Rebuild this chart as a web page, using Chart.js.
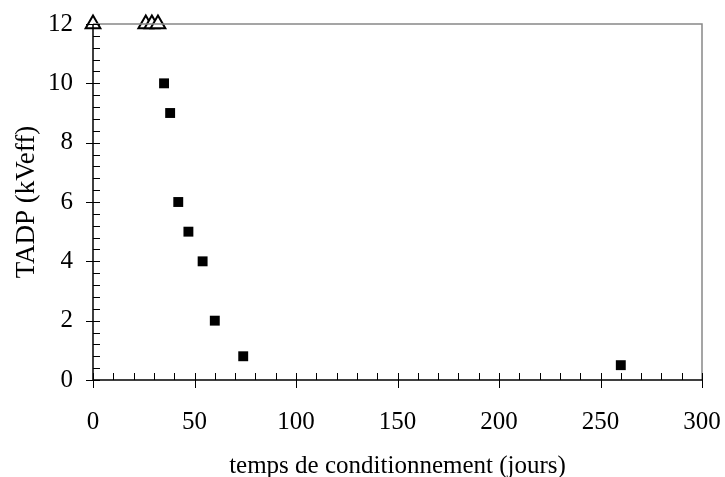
<!DOCTYPE html>
<html>
<head>
<meta charset="utf-8">
<script src="https://cdn.jsdelivr.net/npm/chart.js@4.4.0/dist/chart.umd.min.js"></script>
<style>
  body { margin: 0; background: #fff; }
  #wrap { width: 725px; height: 477px; }
</style>
</head>
<body>
<div id="wrap"><canvas id="myChart"></canvas></div>
<script>
// values
const tempsCarres = [35, 38, 42, 47, 54, 60, 74, 260];
const tadpCarres = [10, 9, 6, 5, 4, 2, 0.8, 0.5];
const tempsTriangles = [0, 26, 29, 32];
const tadpTriangles = [12, 12, 12, 12];
const xTicks = [0, 50, 100, 150, 200, 250, 300];
const yTicks = [0, 2, 4, 6, 8, 10, 12];

const font = { family: '"Liberation Serif", "Times New Roman", serif', size: 25 };

// draws the frame and Excel-style tick marks from the scales
const framePlugin = {
    id: 'frame',
    afterDatasetsDraw(chart) {
        const { ctx, chartArea: a, scales: { x, y } } = chart;
        ctx.save();
        ctx.lineWidth = 1.5;
        ctx.strokeStyle = '#888';
        ctx.beginPath();
        ctx.moveTo(a.left, a.top); ctx.lineTo(a.right, a.top); ctx.lineTo(a.right, a.bottom);
        ctx.stroke();
        ctx.strokeStyle = '#000';
        ctx.beginPath();
        ctx.moveTo(a.left, a.top); ctx.lineTo(a.left, a.bottom); ctx.lineTo(a.right, a.bottom);
        ctx.stroke();
        ctx.lineWidth = 1;
        ctx.beginPath();
        for (let v = 0; v <= 300; v += 10) {
            const px = Math.round(x.getPixelForValue(v)) + 0.5;
            const major = v % 50 === 0;
            ctx.moveTo(px, a.bottom - 7);
            ctx.lineTo(px, a.bottom + (major ? 8 : 0));
        }
        for (let i = 0; i <= 30; i++) {
            const v = i * 0.4;
            const py = Math.round(y.getPixelForValue(v)) + 0.5;
            const major = i % 5 === 0;
            ctx.moveTo(a.left + 7, py);
            ctx.lineTo(a.left - (major ? 7 : 0), py);
        }
        ctx.stroke();
        ctx.restore();
    }
};

// let layout.padding alone decide where the plot area sits
const noOverhang = s => {
    s.paddingTop = 0; s.paddingBottom = 0; s.paddingLeft = 0; s.paddingRight = 0;
};

const ctx = document.getElementById('myChart');
new Chart(ctx, {
    type: 'scatter',
    data: {
        datasets: [
            {
                label: 'carres',
                data: tempsCarres.map((t, i) => ({ x: t, y: tadpCarres[i] })),
                pointStyle: 'rect',
                pointRadius: 7,
                backgroundColor: '#000',
                borderColor: '#000',
                borderWidth: 0
            },
            {
                label: 'triangles',
                data: tempsTriangles.map((t, i) => ({ x: t, y: tadpTriangles[i] })),
                pointStyle: 'triangle',
                pointRadius: 8.5,
                backgroundColor: '#fff',
                borderColor: '#000',
                borderWidth: 2
            }
        ]
    },
    options: {
        responsive: true,
        maintainAspectRatio: false,
        animation: false,
        clip: false,
        layout: { padding: { top: 24, right: 23, left: 0, bottom: 0 } },
        plugins: { legend: { display: false }, tooltip: { enabled: false } },
        scales: {
            x: {
                type: 'linear',
                min: 0,
                max: 300,
                afterBuildTicks: s => { s.ticks = xTicks.map(v => ({ value: v })); },
                afterFit: s => { s.height = 97; noOverhang(s); },
                grid: { display: false, drawTicks: false },
                border: { display: false },
                ticks: { font: font, color: '#000', padding: 27, maxRotation: 0 },
                title: {
                    display: true,
                    text: 'temps de conditionnement (jours)',
                    font: font,
                    color: '#000',
                    padding: { top: 0, bottom: -4 }
                }
            },
            y: {
                type: 'linear',
                min: 0,
                max: 12,
                afterBuildTicks: s => { s.ticks = yTicks.map(v => ({ value: v })); },
                afterFit: s => { s.width = 93; noOverhang(s); },
                grid: { display: false, drawTicks: false },
                border: { display: false },
                ticks: { font: font, color: '#000', padding: 20 },
                title: {
                    display: true,
                    text: 'TADP (kVeff)',
                    font: { family: font.family, size: 27 },
                    color: '#000',
                    padding: { top: 11, bottom: 0 }
                }
            }
        }
    },
    plugins: [framePlugin]
});
</script>
</body>
</html>
